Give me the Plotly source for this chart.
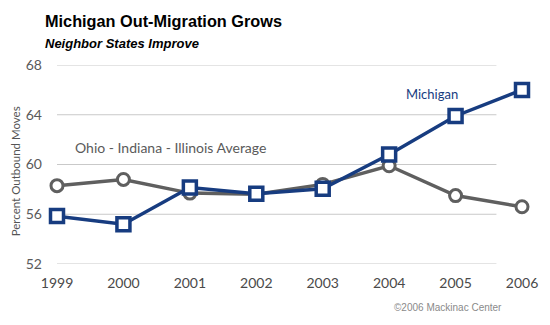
import plotly.graph_objects as go

years = [1999, 2000, 2001, 2002, 2003, 2004, 2005, 2006]
michigan = [55.85, 55.2, 58.15, 57.65, 58.05, 60.8, 63.9, 66.0]
neighbors_avg = [58.3, 58.8, 57.7, 57.6, 58.4, 59.9, 57.5, 56.6]
y_ticks = [52, 56, 60, 64, 68]

NAVY = "#173c80"
GRAY = "#5f5f5f"
TICKFONT = "Lato, 'Open Sans', sans-serif"

fig = go.Figure()

fig.add_trace(go.Scatter(
    x=years, y=neighbors_avg, mode="lines+markers",
    line=dict(color=GRAY, width=3.5),
    marker=dict(symbol="circle", size=12, color="white", line=dict(color=GRAY, width=3)),
    cliponaxis=False, hoverinfo="skip", showlegend=False,
))
fig.add_trace(go.Scatter(
    x=years, y=michigan, mode="lines+markers",
    line=dict(color=NAVY, width=3.5),
    marker=dict(symbol="square", size=13, color="white", line=dict(color=NAVY, width=3.5)),
    cliponaxis=False, hoverinfo="skip", showlegend=False,
))

shapes = [dict(type="line", xref="x domain", yref="y", x0=0, x1=0.945, y0=v, y1=v,
               line=dict(color="#c9c9c9", width=1.2), layer="below") for v in y_ticks]

PW, PH = 469, 199
fig.update_layout(
    width=550, height=325,
    margin=dict(l=57, r=24, t=65, b=61),
    paper_bgcolor="white", plot_bgcolor="white",
    shapes=shapes,
    title=dict(
        text=("<b>Michigan Out-Migration Grows</b><br>"
              "<span style='font-size:13px'><b><i>Neighbor States Improve</i></b></span>"),
        xref="container", yref="container", x=45/550, y=1-27/325,
        xanchor="left", yanchor="top",
        font=dict(family="Liberation Sans, Arial", size=16.3, color="black"),
    ),
    xaxis=dict(range=[1999, 2006], tickvals=years, ticktext=[str(y) for y in years],
               showgrid=False, zeroline=False, showline=False, ticks="",
               tickfont=dict(family=TICKFONT, size=14, color="#4a4a4a"), ticklabelstandoff=9),
    yaxis=dict(range=[52, 68], tickvals=y_ticks, showgrid=False, zeroline=False,
               showline=False, ticks="",
               tickfont=dict(family=TICKFONT, size=14, color="#5a5a5a"), ticklabelstandoff=14),
    annotations=[
        dict(text="Percent Outbound Moves", xref="paper", yref="paper",
             x=(15-57)/PW, y=1-(171-65)/PH, xanchor="center", yanchor="middle", textangle=-90,
             showarrow=False, font=dict(family=TICKFONT, size=11.5, color="#555555")),
        dict(text="Ohio - Indiana - Illinois Average", xref="paper", yref="y",
             x=16/PW, y=61.4, xanchor="left", yanchor="middle", showarrow=False,
             font=dict(family=TICKFONT, size=14, color="#5a5a5a")),
        dict(text="Michigan", xref="paper", yref="y", x=350/PW, y=65.7,
             xanchor="left", yanchor="middle", showarrow=False,
             font=dict(family=TICKFONT, size=13, color=NAVY)),
        dict(text="©2006 Mackinac Center", xref="paper", yref="paper",
             x=(508-57)/PW, y=-(307-264)/PH, xanchor="right", yanchor="middle",
             showarrow=False, font=dict(family="Liberation Sans, Arial", size=10, color="#8a8a8a")),
    ],
)

fig.write_html("out.html")
